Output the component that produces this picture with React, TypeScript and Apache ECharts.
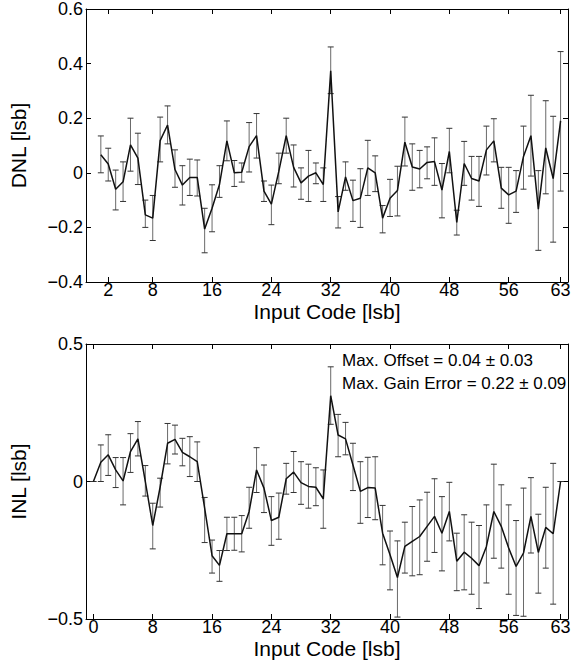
import React, { useEffect, useRef } from "react";
import * as echarts from "echarts";

// ---------- DATA ----------
const dnlCodes = [
  1, 2, 3, 4, 5, 6, 7, 8, 9, 10, 11, 12, 13, 14, 15, 16, 17, 18, 19, 20, 21,
  22, 23, 24, 25, 26, 27, 28, 29, 30, 31, 32, 33, 34, 35, 36, 37, 38, 39, 40,
  41, 42, 43, 44, 45, 46, 47, 48, 49, 50, 51, 52, 53, 54, 55, 56, 57, 58, 59,
  60, 61, 62, 63,
];
const dnlValues = [
  0.066, 0.032, -0.06, -0.033, 0.102, 0.054, -0.154, -0.166, 0.118, 0.175,
  0.012, -0.045, -0.017, -0.017, -0.206, -0.13, -0.043, 0.117, 0.0, 0.002,
  0.096, 0.136, -0.067, -0.115, 0.005, 0.136, 0.02, -0.037, -0.012, 0.0,
  -0.043, 0.374, -0.143, -0.015, -0.102, -0.093, 0.018, 0.0, -0.166, -0.093,
  -0.065, 0.112, 0.021, 0.014, 0.038, 0.041, -0.063, 0.078, -0.182, 0.034,
  -0.021, -0.03, 0.084, 0.117, -0.056, -0.081, -0.067, 0.06, 0.136, -0.133,
  0.091, -0.021, 0.19,
];
const dnlLow = [
  0.0, -0.03, -0.136, -0.105, 0.006, -0.043, -0.2, -0.248, 0.04, 0.106,
  -0.053, -0.118, -0.083, -0.085, -0.293, -0.216, -0.09, 0.044, -0.05, -0.034,
  0.003, 0.054, -0.105, -0.19, -0.04, 0.072, -0.052, -0.097, -0.105, -0.04,
  -0.105, 0.29, -0.202, -0.064, -0.178, -0.2, -0.083, -0.069, -0.22, -0.16,
  -0.158, 0.025, -0.064, -0.055, -0.022, -0.046, -0.165, 0.0, -0.228, -0.046,
  -0.1, -0.123, -0.008, 0.04, -0.13, -0.185, -0.145, -0.06, -0.012, -0.284,
  -0.077, -0.254, -0.067,
];
const dnlHigh = [
  0.135, 0.09, 0.01, 0.04, 0.2, 0.145, -0.1, -0.083, 0.204, 0.245,
  0.084, 0.026, 0.05, 0.047, -0.13, -0.044, 0.026, 0.19, 0.045, 0.036,
  0.184, 0.217, -0.03, -0.045, 0.072, 0.2, 0.102, 0.018, 0.082, 0.036,
  0.018, 0.461, -0.087, 0.04, -0.027, 0.015, 0.119, 0.062, -0.12, -0.024,
  0.024, 0.204, 0.106, 0.082, 0.095, 0.128, 0.034, 0.163, -0.137, 0.115,
  0.06, 0.06, 0.171, 0.198, 0.02, 0.02, 0.008, 0.171, 0.284, 0.008,
  0.264, 0.207, 0.444,
];

const inlCodes = [
  0, 1, 2, 3, 4, 5, 6, 7, 8, 9, 10, 11, 12, 13, 14, 15, 16, 17, 18, 19, 20,
  21, 22, 23, 24, 25, 26, 27, 28, 29, 30, 31, 32, 33, 34, 35, 36, 37, 38, 39,
  40, 41, 42, 43, 44, 45, 46, 47, 48, 49, 50, 51, 52, 53, 54, 55, 56, 57, 58,
  59, 60, 61, 62, 63,
];
const inlValues = [
  0, 0.07, 0.097, 0.042, 0.002, 0.109, 0.155, 0.0, -0.16, -0.02,
  0.139, 0.153, 0.106, 0.09, 0.072, -0.097, -0.27, -0.305, -0.19, -0.19,
  -0.19, -0.109, 0.042, -0.024, -0.142, -0.13, 0.01, 0.034, -0.004, -0.018,
  -0.021, -0.063, 0.312, 0.169, 0.155, 0.06, -0.036, -0.022, -0.024, -0.188,
  -0.266, -0.349, -0.236, -0.218, -0.2, -0.163, -0.127, -0.188, -0.109, -0.29,
  -0.257, -0.279, -0.306, -0.236, -0.109, -0.163, -0.242, -0.309, -0.26, -0.127,
  -0.258, -0.167, -0.19, 0,
];
const inlLow = [
  0, 0.0, 0.022, -0.022, -0.085, 0.033, 0.093, -0.053, -0.245, -0.093,
  0.064, 0.1, 0.057, 0.018, 0.0, -0.222, -0.333, -0.363, -0.251, -0.25,
  -0.256, -0.17, -0.04, -0.113, -0.232, -0.21, -0.046, -0.04, -0.083, -0.097,
  -0.088, -0.17, 0.208, 0.09, 0.097, -0.033, -0.152, -0.131, -0.139, -0.303,
  -0.394, -0.493, -0.333, -0.343, -0.339, -0.29, -0.258, -0.325, -0.216, -0.397,
  -0.394, -0.41, -0.462, -0.369, -0.279, -0.315, -0.41, -0.487, -0.49, -0.26,
  -0.406, -0.315, -0.446, 0,
];
const inlHigh = [
  0, 0.133, 0.17, 0.087, 0.087, 0.174, 0.218, 0.058, -0.079, 0.012,
  0.211, 0.205, 0.157, 0.163, 0.144, -0.058, -0.213, -0.251, -0.13, -0.13,
  -0.124, -0.021, 0.123, 0.06, -0.055, -0.042, 0.066, 0.109, 0.072, 0.063,
  0.05, 0.042, 0.417, 0.244, 0.215, 0.139, 0.072, 0.088, 0.09, -0.087,
  -0.18, -0.216, -0.148, -0.091, -0.067, -0.039, 0.01, -0.055, -0.003, -0.188,
  -0.121, -0.148, -0.16, -0.085, 0.063, -0.012, -0.085, -0.142, -0.024, 0.014,
  -0.119, -0.021, 0.066, 0,
];

const dnlXTicks = [2, 8, 16, 24, 32, 40, 48, 56, 63];
const inlXTicks = [0, 8, 16, 24, 32, 40, 48, 56, 63];
const annotationLines = ["Max. Offset = 0.04 \u00b1 0.03", "Max. Gain Error = 0.22 \u00b1 0.09"];
const xAxisTitle = "Input Code [lsb]";
const dnlTitle = "DNL [lsb]";
const inlTitle = "INL [lsb]";

// ---------- CHART ----------
const FONT = "'Liberation Sans', Arial, Helvetica, sans-serif";

function fmtY(v: number) {
  const r = Number(v.toFixed(2));
  if (r === 0) return "0";
  return String(r).replace("-", "\u2212");
}

function errorBarRender(params: any, api: any) {
  const x = api.value(0);
  const lo = api.coord([x, api.value(1)]);
  const hi = api.coord([x, api.value(2)]);
  const hw = 3;
  return {
    type: "group",
    children: [
      {
        type: "line",
        shape: { x1: lo[0], y1: lo[1], x2: hi[0], y2: hi[1] },
        style: { stroke: "#6a6a6a", lineWidth: 1 },
      },
      {
        type: "line",
        shape: { x1: lo[0] - hw, y1: lo[1], x2: lo[0] + hw, y2: lo[1] },
        style: { stroke: "#333", lineWidth: 1 },
      },
      {
        type: "line",
        shape: { x1: hi[0] - hw, y1: hi[1], x2: hi[0] + hw, y2: hi[1] },
        style: { stroke: "#333", lineWidth: 1 },
      },
    ],
  };
}

export default function App() {
  const ref = useRef<HTMLDivElement>(null);

  useEffect(() => {
    if (!ref.current) return;
    const chart = echarts.init(ref.current, null, { renderer: "svg" });

    const labelStyle = { color: "#000", fontFamily: FONT, fontSize: 18 };
    const nameStyle = { color: "#000", fontFamily: FONT, fontSize: 21 };

    const makeX = (gridIndex: number, ticks: number[], bottom: boolean) => ({
      type: "value",
      gridIndex,
      position: bottom ? "bottom" : "top",
      min: -1,
      max: 64,
      name: bottom ? xAxisTitle : "",
      nameLocation: "middle",
      nameGap: 19,
      nameMoveOverlap: false,
      nameTextStyle: { ...nameStyle, lineHeight: 21 },
      axisLine: { show: true, onZero: false, lineStyle: { color: "#000", width: 1 } },
      axisTick: {
        show: true,
        inside: true,
        length: 5,
        customValues: ticks,
        lineStyle: { color: "#000" },
      },
      axisLabel: {
        show: bottom,
        customValues: ticks,
        margin: 0,
        lineHeight: 16,
        ...labelStyle,
      },
      splitLine: { show: false },
    });

    const makeY = (gridIndex: number, min: number, max: number, interval: number, left: boolean, name: string) => ({
      type: "value",
      gridIndex,
      position: left ? "left" : "right",
      min,
      max,
      interval,
      name: left ? name : "",
      nameLocation: "middle",
      nameGap: 57,
      nameMoveOverlap: false,
      nameTextStyle: nameStyle,
      axisLine: { show: true, onZero: false, lineStyle: { color: "#000", width: 1 } },
      axisTick: { show: true, inside: true, length: 5, lineStyle: { color: "#000" } },
      axisLabel: { show: left, margin: 3, formatter: fmtY, ...labelStyle },
      splitLine: { show: false },
    });

    const dnlLineData = dnlCodes.map((c, i) => [c, dnlValues[i]]);
    const dnlErrData = dnlCodes.map((c, i) => [c, dnlLow[i], dnlHigh[i]]);
    const inlLineData = inlCodes.map((c, i) => [c, inlValues[i]]);
    const inlErrData = inlCodes.map((c, i) => [c, inlLow[i], inlHigh[i]]);

    chart.setOption({
      animation: false,
      backgroundColor: "#fff",
      grid: [
        { left: 77, top: 6, width: 491, height: 276, show: false },
        { left: 77, top: 344, width: 491, height: 275, show: false },
      ],
      xAxis: [
        makeX(0, dnlXTicks, true),
        makeX(0, dnlXTicks, false),
        makeX(1, inlXTicks, true),
        makeX(1, inlXTicks, false),
      ],
      yAxis: [
        makeY(0, -0.4, 0.6, 0.2, true, dnlTitle),
        makeY(0, -0.4, 0.6, 0.2, false, ""),
        makeY(1, -0.5, 0.5, 0.5, true, inlTitle),
        makeY(1, -0.5, 0.5, 0.5, false, ""),
      ],
      series: [
        {
          type: "custom",
          xAxisIndex: 0,
          yAxisIndex: 0,
          renderItem: errorBarRender,
          encode: { x: 0, y: [1, 2] },
          data: dnlErrData,
          z: 2,
          clip: false,
        },
        {
          type: "line",
          xAxisIndex: 0,
          yAxisIndex: 0,
          data: dnlLineData,
          symbol: "none",
          lineStyle: { color: "#111", width: 1.5 },
          z: 3,
        },
        {
          type: "custom",
          xAxisIndex: 2,
          yAxisIndex: 2,
          renderItem: errorBarRender,
          encode: { x: 0, y: [1, 2] },
          data: inlErrData,
          z: 2,
          clip: false,
        },
        {
          type: "line",
          xAxisIndex: 2,
          yAxisIndex: 2,
          data: inlLineData,
          symbol: "none",
          lineStyle: { color: "#111", width: 1.5 },
          z: 3,
        },
      ],
      graphic: annotationLines.map((t, i) => ({
        type: "text",
        left: 342,
        top: 352 + i * 23,
        style: { text: t, fill: "#000", font: `17px ${FONT}` },
      })),
    });

    return () => chart.dispose();
  }, []);

  return (
    <div
      ref={ref}
      style={{ position: "fixed", left: 0, top: 0, width: 581, height: 666, background: "#fff" }}
    />
  );
}
